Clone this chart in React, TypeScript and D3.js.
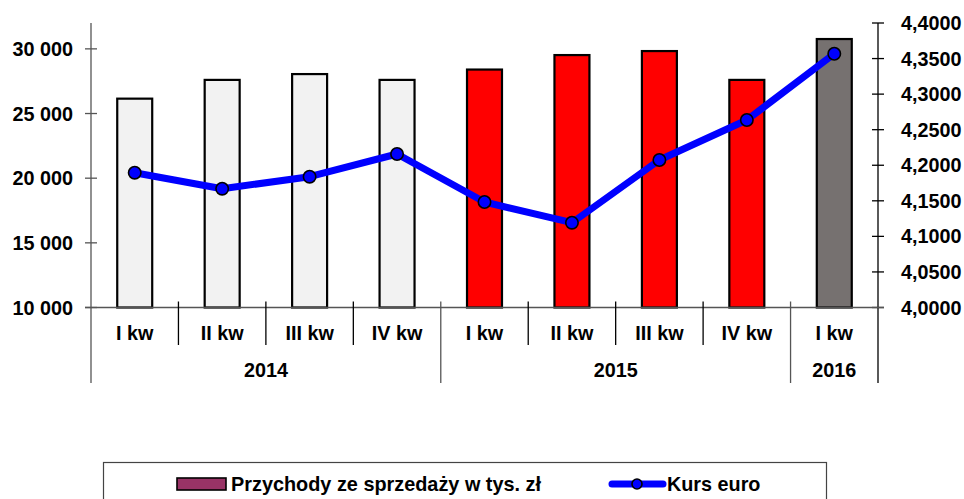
import { useEffect, useRef } from 'react';
import * as d3 from 'd3';

const quarters = ['I kw', 'II kw', 'III kw', 'IV kw', 'I kw', 'II kw', 'III kw', 'IV kw', 'I kw'];
const years = ['2014', '2014', '2014', '2014', '2015', '2015', '2015', '2015', '2016'];
const revenue = [26150, 27600, 28050, 27600, 28400, 29520, 29830, 27600, 30760];
const euroRate = [4.1895, 4.167, 4.1839, 4.2158, 4.1483, 4.1192, 4.2074, 4.2636, 4.3568];
const leftTicks = [10000, 15000, 20000, 25000, 30000];
const rightTicks = [4.0, 4.05, 4.1, 4.15, 4.2, 4.25, 4.3, 4.35, 4.4];
const yearColors: Record<string, string> = { '2014': '#f2f2f2', '2015': '#ff0000', '2016': '#767170' };

const FONT = '"Liberation Sans", Arial, sans-serif';
const FS = 19.8;

export default function App() {
  const svgRef = useRef<SVGSVGElement>(null);

  useEffect(() => {
    if (!svgRef.current) return;
    const svg = d3.select(svgRef.current);
    svg.selectAll('*').remove();

    const left = 91;
    const right = 878;
    const top = 23;
    const bottom = 307.5;

    const idx = quarters.map((_, i) => i);
    const x = d3.scaleBand<number>().domain(idx).range([left, right]).paddingInner(0).paddingOuter(0);
    const y = d3.scaleLinear().domain([10000, 32000]).range([bottom, top]);
    const y2 = d3.scaleLinear().domain([4.0, 4.4]).range([bottom, top]);
    const barW = x.bandwidth() * 0.4;

    const g = svg.append('g').style('font-family', FONT).style('font-weight', 'bold');

    // bars
    g.selectAll('rect.bar')
      .data(revenue)
      .enter()
      .append('rect')
      .attr('class', 'bar')
      .attr('x', (d, i) => (x(i) as number) + x.bandwidth() / 2 - barW / 2)
      .attr('y', d => y(d))
      .attr('width', barW)
      .attr('height', d => bottom - y(d))
      .attr('fill', (d, i) => yearColors[years[i]])
      .attr('stroke', '#000')
      .attr('stroke-width', 2.2);

    // left axis
    g.append('line')
      .attr('x1', left).attr('x2', left)
      .attr('y1', top).attr('y2', 383)
      .attr('stroke', '#555').attr('stroke-width', 1.3);
    g.selectAll('line.lt')
      .data(leftTicks)
      .enter()
      .append('line')
      .attr('x1', left - 6).attr('x2', left + 6)
      .attr('y1', d => y(d)).attr('y2', d => y(d))
      .attr('stroke', '#555').attr('stroke-width', 1.3);
    g.selectAll('text.lt')
      .data(leftTicks)
      .enter()
      .append('text')
      .attr('x', 73)
      .attr('y', d => y(d) + 7)
      .attr('text-anchor', 'end')
      .attr('font-size', FS)
      .text(d => d3.format(',')(d).replace(',', ' '));

    // right axis
    g.append('line')
      .attr('x1', right).attr('x2', right)
      .attr('y1', top).attr('y2', 383)
      .attr('stroke', '#000').attr('stroke-width', 1.3);
    g.selectAll('line.rt')
      .data(rightTicks)
      .enter()
      .append('line')
      .attr('x1', right - 6).attr('x2', right + 6)
      .attr('y1', d => y2(d)).attr('y2', d => y2(d))
      .attr('stroke', '#000').attr('stroke-width', 1.3);
    g.selectAll('text.rt')
      .data(rightTicks)
      .enter()
      .append('text')
      .attr('x', 901)
      .attr('y', d => y2(d) + 7)
      .attr('font-size', FS)
      .text(d => d.toFixed(4).replace('.', ','));

    // category axis
    g.append('line')
      .attr('x1', left - 6).attr('x2', right + 6)
      .attr('y1', bottom).attr('y2', bottom)
      .attr('stroke', '#555').attr('stroke-width', 1.3);
    idx.slice(1).forEach(i => {
      const isYear = years[i] !== years[i - 1];
      g.append('line')
        .attr('x1', x(i) as number).attr('x2', x(i) as number)
        .attr('y1', bottom - 6).attr('y2', isYear ? 383 : 345)
        .attr('stroke', isYear ? '#555' : '#000').attr('stroke-width', 1.3);
    });
    g.selectAll('text.q')
      .data(quarters)
      .enter()
      .append('text')
      .attr('x', (d, i) => (x(i) as number) + x.bandwidth() / 2)
      .attr('y', 340)
      .attr('text-anchor', 'middle')
      .attr('font-size', FS)
      .text(d => d);
    const yearGroups = d3.groups(idx, i => years[i]);
    g.selectAll('text.yr')
      .data(yearGroups)
      .enter()
      .append('text')
      .attr('x', d => ((x(d[1][0]) as number) + (x(d[1][d[1].length - 1]) as number) + x.bandwidth()) / 2)
      .attr('y', 377)
      .attr('text-anchor', 'middle')
      .attr('font-size', FS)
      .text(d => d[0]);

    // line
    const line = d3
      .line<number>()
      .x((d, i) => (x(i) as number) + x.bandwidth() / 2)
      .y(d => y2(d));
    g.append('path')
      .datum(euroRate)
      .attr('d', line)
      .attr('fill', 'none')
      .attr('stroke', '#0000ff')
      .attr('stroke-width', 7)
      .attr('stroke-linejoin', 'round');
    g.selectAll('circle.pt')
      .data(euroRate)
      .enter()
      .append('circle')
      .attr('cx', (d, i) => (x(i) as number) + x.bandwidth() / 2)
      .attr('cy', d => y2(d))
      .attr('r', 6.2)
      .attr('fill', '#0000ff')
      .attr('stroke', '#000')
      .attr('stroke-width', 1.6);

    // legend
    g.append('rect')
      .attr('x', 103.5).attr('y', 462.5)
      .attr('width', 723).attr('height', 50)
      .attr('fill', '#fff')
      .attr('stroke', '#444').attr('stroke-width', 1.2);
    g.append('rect')
      .attr('x', 177).attr('y', 478)
      .attr('width', 49).attr('height', 12)
      .attr('fill', '#993366')
      .attr('stroke', '#000').attr('stroke-width', 1.6);
    g.append('text')
      .attr('x', 231).attr('y', 491)
      .attr('font-size', FS)
      .attr('textLength', 310)
      .attr('lengthAdjust', 'spacingAndGlyphs')
      .text('Przychody ze sprzedaży w tys. zł');
    g.append('line')
      .attr('x1', 612).attr('x2', 663)
      .attr('y1', 484).attr('y2', 484)
      .attr('stroke', '#0000ff').attr('stroke-width', 7)
      .attr('stroke-linecap', 'round');
    g.append('circle')
      .attr('cx', 637).attr('cy', 484).attr('r', 5)
      .attr('fill', '#0000ff')
      .attr('stroke', '#000').attr('stroke-width', 1.6);
    g.append('text')
      .attr('x', 667).attr('y', 491)
      .attr('font-size', FS)
      .text('Kurs euro');
  }, []);

  return (
    <svg
      ref={svgRef}
      width={964}
      height={499}
      style={{ position: 'absolute', left: 0, top: 0, background: '#fff' }}
    ></svg>
  );
}
